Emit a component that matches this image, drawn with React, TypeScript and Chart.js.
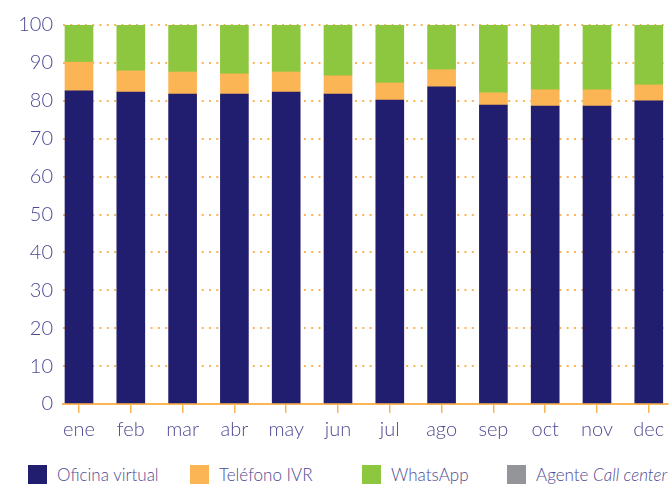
import React, { useEffect, useRef } from "react";
import { Chart, registerables } from "chart.js";

Chart.register(...registerables);

const months = ["ene", "feb", "mar", "abr", "may", "jun", "jul", "ago", "sep", "oct", "nov", "dec"];
const oficinaVirtual = [82.6, 82.3, 81.8, 81.8, 82.3, 81.8, 80.2, 83.7, 78.9, 78.6, 78.6, 80.0];
const telefonoIVR = [7.6, 5.6, 5.8, 5.3, 5.3, 4.8, 4.5, 4.5, 3.2, 4.3, 4.3, 4.2];
const whatsApp = [9.8, 12.1, 12.4, 12.9, 12.4, 13.4, 15.3, 11.8, 17.9, 17.1, 17.1, 15.8];
const agenteCallCenter = [0, 0, 0, 0, 0, 0, 0, 0, 0, 0, 0, 0];

const yTicks = [0, 10, 20, 30, 40, 50, 60, 70, 80, 90, 100];

const NAVY = "#221e6f";
const ORANGE = "#fbb555";
const GREEN = "#8dc63f";
const GRAY = "#939598";
const TEXT = "#4d4a93";
const FONT = "Lato, 'Open Sans', sans-serif";

export default function App() {
  const ref = useRef<HTMLCanvasElement | null>(null);

  useEffect(() => {
    if (!ref.current) return;
    const chart = new Chart(ref.current, {
      type: "bar",
      data: {
        labels: months,
        datasets: [
          { label: "Oficina virtual", data: oficinaVirtual, backgroundColor: NAVY },
          { label: "Teléfono IVR", data: telefonoIVR, backgroundColor: ORANGE },
          { label: "WhatsApp", data: whatsApp, backgroundColor: GREEN },
          { label: "Agente Call center", data: agenteCallCenter, backgroundColor: GRAY },
        ],
      },
      options: {
        responsive: false,
        animation: false,
        maintainAspectRatio: false,
        layout: { padding: { top: 25, right: 4, left: 0, bottom: 0 } },
        plugins: { legend: { display: false }, tooltip: { enabled: false } },
        datasets: { bar: { barThickness: 28 } },
        scales: {
          x: {
            stacked: true,
            afterBuildTicks: (scale: any) => {
              scale._startValue = -0.309;
              scale._valueRange = 11.68;
            },
            afterFit: (scale: any) => {
              scale.height = 51;
            },
            border: { display: true, color: ORANGE, width: 2 },
            grid: {
              display: true,
              offset: false,
              drawOnChartArea: false,
              drawTicks: true,
              tickLength: 9,
              color: ORANGE,
              lineWidth: 1.5,
            },
            ticks: {
              color: TEXT,
              padding: 5,
              font: { family: FONT, size: 20, weight: 300 },
            },
          },
          y: {
            stacked: true,
            min: 0,
            max: 100,
            afterFit: (scale: any) => {
              scale.width = 63;
            },
            afterBuildTicks: (scale: any) => {
              scale.ticks = yTicks.map((v) => ({ value: v }));
            },
            border: { display: false, dash: [2, 5.3] },
            grid: {
              drawTicks: false,
              color: (ctx: any) => (ctx.tick && ctx.tick.value === 0 ? "rgba(0,0,0,0)" : ORANGE),
              lineWidth: 2,
            },
            ticks: {
              color: TEXT,
              padding: 10,
              font: { family: FONT, size: 20, weight: 300 },
            },
          },
        },
      },
    });
    return () => chart.destroy();
  }, []);

  const legendItems = [
    { color: NAVY, left: 28, text: <>Oficina virtual</> },
    { color: ORANGE, left: 190, text: <>Teléfono IVR</> },
    { color: GREEN, left: 362, text: <>WhatsApp</> },
    { color: GRAY, left: 507, text: <>Agente <i>Call center</i></> },
  ];

  return (
    <div style={{ position: "absolute", left: 0, top: 0, width: 672, height: 489, background: "#fff" }}>
      <canvas ref={ref} width={672} height={455} style={{ position: "absolute", left: 0, top: 0 }} />
      {legendItems.map((it, i) => (
        <div
          key={i}
          style={{
            position: "absolute",
            left: it.left,
            top: 465,
            height: 19,
            display: "flex",
            alignItems: "center",
            whiteSpace: "nowrap",
            fontFamily: FONT,
            fontWeight: 300,
            fontSize: 17,
            color: TEXT,
          }}
        >
          <span style={{ display: "inline-block", width: 19, height: 19, background: it.color, marginRight: 10 }} />
          <span>{it.text}</span>
        </div>
      ))}
    </div>
  );
}
